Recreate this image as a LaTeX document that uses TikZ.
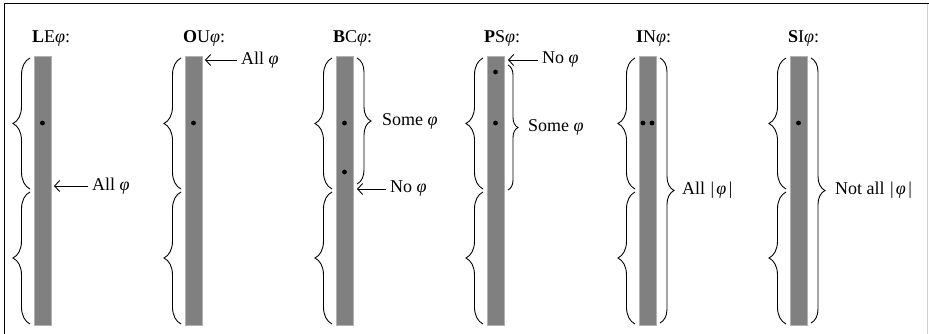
\documentclass[tikz,border=0pt]{standalone}
\usepackage{fontspec}
\setmainfont{Liberation Serif}
\usetikzlibrary{arrows.meta,decorations.pathreplacing}

\tikzset{
  every node/.style={font=\fontsize{18}{21}\selectfont},
  bar/.style={draw=gray!60, fill=gray, line width=0.6pt, inner sep=0pt,
              minimum width=17pt, minimum height=269pt},
  lbrace/.style={decorate, line width=0.9pt,
                 decoration={brace, amplitude=17pt}},
  rbrace/.style={decorate, line width=0.9pt,
                 decoration={brace, amplitude=14pt}},
  sbrace/.style={decorate, line width=0.9pt,
                 decoration={brace, amplitude=10pt}},
  pointer/.style={line width=0.9pt, -{Straight Barb[length=5pt,width=11pt]}},
  lbl/.style={anchor=west, inner sep=4pt},
  title/.style={anchor=base west, inner sep=0pt},
  dot/.style={fill=black},
}

\newcommand{\ph}{\textit{φ}}
\newcommand{\absph}{\kern1pt|\kern2pt\ph\kern2.5pt|}

\begin{document}
\begin{tikzpicture}[x=1pt,y=-1pt]
\useasboundingbox (0,0) rectangle (929,334);

% frame
\draw[line width=1pt] (4,334) -- (4,4) -- (929,4);
\draw[gray!35, line width=1pt] (927.5,4) -- (927.5,334);

% the six bars with their paired left braces
\foreach \n/\L in {1/34,2/185,3/336,4/487,5/639,6/790}{
  \node[bar] (b\n) at (\L+8.5,190.5) {};
  \draw[lbrace] (\L-4,189) -- (\L-4,58);
  \draw[lbrace] (\L-4,324) -- (\L-4,192);
}

% titles
\node[title] (h1) at (32,43)  {\textbf{L}E\ph:};
\node[title] (h2) at (183,43) {\textbf{O}U\ph:};
\node[title] (h3) at (333,43) {\textbf{B}C\ph:};
\node[title] (h4) at (484,43) {\textbf{P}S\ph:};
\node[title] (h5) at (636,43) {\textbf{I}N\ph:};
\node[title] (h6) at (788,43) {\textbf{S}I\ph:};

% LE
\fill[dot] (42.5,123) circle (2.4pt);
\coordinate (t1) at (54,186);
\node[lbl] (l1) at (88,186) {All \ph};
\draw[pointer] (l1) -- (t1);

% OU
\fill[dot] (193.5,123) circle (2.4pt);
\coordinate (t2) at (205,60);
\node[lbl] (l2) at (237,60) {All \ph};
\draw[pointer] (l2) -- (t2);

% BC
\fill[dot] (344.5,123) circle (2.4pt);
\fill[dot] (344.5,172) circle (2.4pt);
\draw[rbrace] (357,58) -- (357,184);
\node[lbl] (s3) at (378,121) {Some \ph};
\coordinate (t3) at (357,189);
\node[lbl] (l3) at (386,189) {No \ph};
\draw[pointer] (l3) -- (t3);

% PS
\fill[dot] (495.5,72) circle (2.4pt);
\fill[dot] (495.5,123) circle (2.4pt);
\draw[sbrace] (508,65) -- (508,190);
\node[lbl] (s4) at (524,127) {Some \ph};
\coordinate (t4) at (508,60);
\node[lbl] (l4) at (538,60) {No \ph};
\draw[pointer] (l4) -- (t4);

% IN
\fill[dot] (643,123) circle (2.4pt);
\fill[dot] (652,123) circle (2.4pt);
\draw[rbrace] (660,58) -- (660,323);
\node[lbl] (s5) at (678,190) {All \absph};

% SI
\fill[dot] (798.5,123) circle (2.4pt);
\draw[rbrace] (811,58) -- (811,323);
\node[lbl] (s6) at (831,190) {Not all \absph};

\end{tikzpicture}
\end{document}
